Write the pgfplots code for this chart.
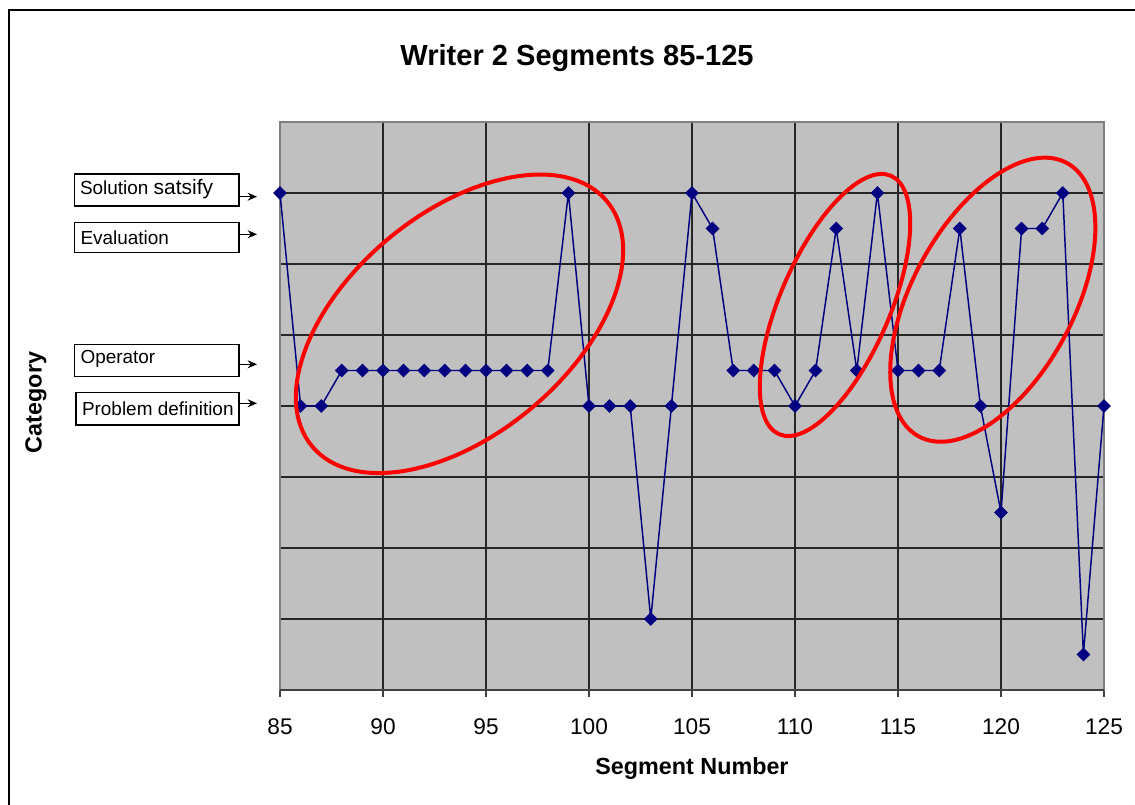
\documentclass[border=0pt]{standalone}
\usepackage{pgfplots}
\pgfplotsset{compat=1.18}
\usepackage{fontspec}
\setmainfont{Liberation Sans}
\usetikzlibrary{arrows.meta}
\definecolor{plotgray}{HTML}{C0C0C0}
\definecolor{navyline}{HTML}{000080}
\definecolor{framegray}{HTML}{808080}

\begin{document}
\begin{tikzpicture}[x=0.75pt,y=0.75pt]
\useasboundingbox (0,0) rectangle (1135,804);
% outer chart border
\draw[line width=0.8pt] (9,-20) -- (9,794) -- (1160,794);

\begin{axis}[
  at={(210pt,85.5pt)}, anchor=south west,
  width=618pt, height=426pt, scale only axis,
  xmin=85, xmax=125, ymin=0, ymax=8,
  xtick={85,90,...,125}, ytick={1,...,7},
  yticklabels={},
  grid=major,
  major grid style={draw=black!85, line width=0.95pt},
  axis background/.style={fill=plotgray},
  axis line style={draw=framegray, line width=1.4pt},
  tick align=outside, xtick pos=left, ytick pos=left,
  major tick length=5.25pt,
  xtick style={draw=black!75, line width=0.8pt},
  ytick style={draw=none},
  ticklabel style={font=\fontsize{17}{20}\selectfont},
  /pgf/number format/assume math mode=true,
  xticklabel style={yshift=-13pt},
  clip=false,
]
\draw[black!75, line width=1.6pt] (axis cs:85,0) -- (axis cs:125,0);
\addplot[navyline, line width=1.1pt, mark=square*,
  mark size=3.1pt, mark options={rotate=45, solid, fill=navyline}]
  coordinates {
  (85,7) (86,4) (87,4) (88,4.5) (89,4.5) (90,4.5) (91,4.5) (92,4.5)
  (93,4.5) (94,4.5) (95,4.5) (96,4.5) (97,4.5) (98,4.5) (99,7)
  (100,4) (101,4) (102,4) (103,1) (104,4) (105,7) (106,6.5)
  (107,4.5) (108,4.5) (109,4.5) (110,4) (111,4.5) (112,6.5)
  (113,4.5) (114,7) (115,4.5) (116,4.5) (117,4.5) (118,6.5)
  (119,4) (120,2.5) (121,6.5) (122,6.5) (123,7) (124,0.5) (125,4)
  };
\end{axis}

% highlighted regions
\draw[red, line width=3pt, rotate around={39.7:(459.5,480.2)}]
  (459.5,480.2) ellipse (191.7 and 110.9);
\draw[red, line width=3pt, rotate around={66.6:(835,499)}]
  (835,499) ellipse (140.8 and 54.8);
\draw[red, line width=3pt, rotate around={61.55:(992.8,504.3)}]
  (992.8,504.3) ellipse (155.5 and 80.7);

% titles
\node[anchor=base, font=\bfseries\fontsize{21.8}{24}\selectfont] at (577,738)
  {Writer 2 Segments 85-125};
\node[anchor=base, font=\bfseries\fontsize{17.5}{20}\selectfont] at (692,30)
  {Segment Number};
\node[anchor=base, rotate=90, font=\bfseries\fontsize{17.5}{20}\selectfont]
  at (41.5,401.5) {Category};

% category boxes
\begin{scope}[line width=0.8pt]
\draw (74.3,630) rectangle (239,598);
\node[anchor=west, inner sep=0pt, font=\fontsize{14.2}{16}\selectfont] at (79.5,614.5)
  {Solution {\fontsize{15.7}{17}\selectfont satsify}};
\draw[-{Stealth[length=7pt,width=6pt]}] (239,607.3) -- (257,607.3);

\draw (74.3,581.7) rectangle (239,551.3);
\node[anchor=west, inner sep=0pt, font=\fontsize{14.2}{16}\selectfont] at (80,566.5)
  {Evaluation};
\draw[-{Stealth[length=7pt,width=6pt]}] (239,569.7) -- (257,569.7);

\draw (74.3,459.7) rectangle (239,427.3);
\node[anchor=west, inner sep=0pt, font=\fontsize{14.2}{16}\selectfont] at (80,445)
  {Operator};
\draw[-{Stealth[length=7pt,width=6pt]}] (239,439.7) -- (257,439.7);

\draw (76,411.3) rectangle (239,379);
\node[anchor=west, inner sep=0pt, font=\fontsize{14.2}{16}\selectfont] at (81.5,395.5)
  {Problem definition};
\draw[-{Stealth[length=7pt,width=6pt]}] (239,400.7) -- (257,400.7);
\end{scope}
\end{tikzpicture}
\end{document}
